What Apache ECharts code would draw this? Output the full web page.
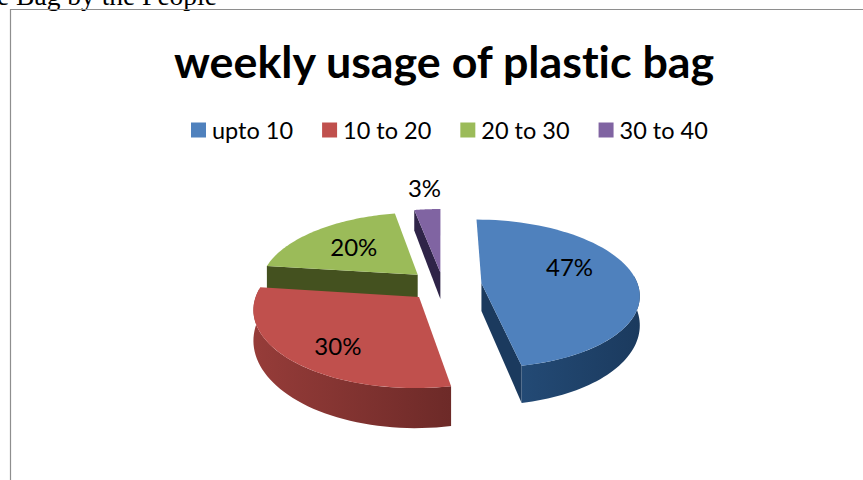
<!DOCTYPE html>
<html><head><meta charset="utf-8">
<style>html,body{margin:0;padding:0;background:#fff}#c{width:863px;height:480px}
text{font-variant-ligatures:none}</style>
<script src="https://cdn.jsdelivr.net/npm/echarts@6/dist/echarts.min.js"></script>
</head><body><div id="c"></div>
<script>
const categories = ['upto 10', '10 to 20', '20 to 30', '30 to 40'];
const values = [47, 30, 20, 3];
const labels = ['47%', '30%', '20%', '3%'];
const topColors = ['#4F81BD', '#C0504D', '#9BBB59', '#8064A2'];
const wallLight = ['#234a75', '#963c39', '#4f6428', '#4a3a6e'];
const wallDark = ['#1b3a5e', '#6d2a28', '#44511f', '#2f2448'];

// pie geometry: a flat disc seen in perspective
const C = {x: 441, y: 285}, R = 163, RY = 76, K = 0.145, DEPTH = 28;
const explode = [0.25, 0.21, 0.2, 0.17];
const shrink = [0.96, 0.98, 0.97, 1];
const slideX = [0, 0.012, 0, 0.012];
const labelFrac = [0.6, 0.6, 0.6, 1.35];
const labelNudge = [[-4, -13], [-8, 12], [-1, -1], [1, -3]];
const total = values.reduce((a, b) => a + b, 0);
const toRad = v => v / total * Math.PI * 2;
const starts = values.map((_, i) => toRad(values.slice(0, i).reduce((a, b) => a + b, 0)));

function proj(u, v, drop) {
  const s = 1 / (1 - K * v);
  return [C.x + s * u * R, C.y + s * v * RY + (drop ? DEPTH * s * s : 0)];
}
function sliceChildren(i) {
  const a0 = starts[i], a1 = a0 + toRad(values[i]), mid = (a0 + a1) / 2;
  const ox = Math.sin(mid) * explode[i] + slideX[i], oy = -Math.cos(mid) * explode[i];
  const at = (a, r, drop) => proj(ox + r * shrink[i] * Math.sin(a), oy - r * shrink[i] * Math.cos(a), drop);
  const kids = [];
  const wall = (pts, c0, c1) => kids.push({type: 'polygon', shape: {points: pts}, z2: 1,
    style: {fill: {type: 'linear', x: 0, y: 0, x2: 1, y2: 0,
      colorStops: [{offset: 0, color: c0}, {offset: 1, color: c1}]}}});
  const radial = (a, normalV) => {
    if (normalV > 0.01) {
      wall([at(a, 0), at(a, 1), at(a, 1, true), at(a, 0, true)], wallDark[i], wallDark[i]);
    }
  };
  radial(a0, -Math.sin(a0));
  radial(a1, Math.sin(a1));
  const w0 = Math.max(a0, Math.PI / 2 - 0.1), w1 = Math.min(a1, Math.PI * 1.5 + 0.1);
  if (w1 > w0) {
    const up = [], dn = [];
    for (let k = 0; k <= 48; k++) {
      const a = w0 + (w1 - w0) * k / 48;
      up.push(at(a, 1));
      dn.unshift(at(a, 1, true));
    }
    wall(up.concat(dn), wallLight[i], wallDark[i]);
  }
  const top = [at(a0, 0)];
  for (let k = 0; k <= 64; k++) top.push(at(a0 + (a1 - a0) * k / 64, 1));
  kids.push({type: 'polygon', shape: {points: top}, z2: 2, style: {fill: topColors[i]}});
  const lp = at(mid, labelFrac[i]);
  kids.push({type: 'text', z2: 3, style: {
    text: labels[i], x: lp[0] + labelNudge[i][0], y: lp[1] + labelNudge[i][1],
    align: 'center', verticalAlign: 'middle',
    font: '24px Lato', fill: '#000'}});
  return kids;
}

const zOrder = [2, 4, 3, 2];
const chart = echarts.init(document.getElementById('c'), null, {renderer: 'svg'});
chart.setOption({
  animation: false,
  backgroundColor: '#fff',
  title: {
    text: 'weekly usage of plastic bag', left: 174, top: 38, padding: 0,
    textStyle: {fontFamily: 'Lato', fontWeight: 'bold', fontSize: 44.8, color: '#000'}
  },
  legend: {
    data: categories, top: 118, left: 191, padding: 0,
    icon: 'rect', itemWidth: 15, itemHeight: 15, itemGap: 29,
    selectedMode: false,
    textStyle: {fontFamily: 'Lato', fontSize: 23.5, color: '#000', padding: [0, 0, 0, 1]}
  },
  graphic: [
    {type: 'text', x: -3, y: 9, style: {text: 'e Bag by the People', font: '27.5px "Liberation Serif"', fill: '#000', verticalAlign: 'bottom'}},
    {type: 'line', shape: {x1: 10, y1: 9.5, x2: 863, y2: 9.5}, style: {stroke: '#8e8e8e', lineWidth: 1.2}},
    {type: 'line', shape: {x1: 10.5, y1: 9, x2: 10.5, y2: 480}, style: {stroke: '#8e8e8e', lineWidth: 1.2}}
  ],
  series: categories.map((name, i) => ({
    type: 'custom', name, coordinateSystem: 'none', z: zOrder[i],
    itemStyle: {color: topColors[i]},
    data: [values[i]],
    renderItem: () => ({type: 'group', children: sliceChildren(i)})
  }))
});
</script></body></html>
